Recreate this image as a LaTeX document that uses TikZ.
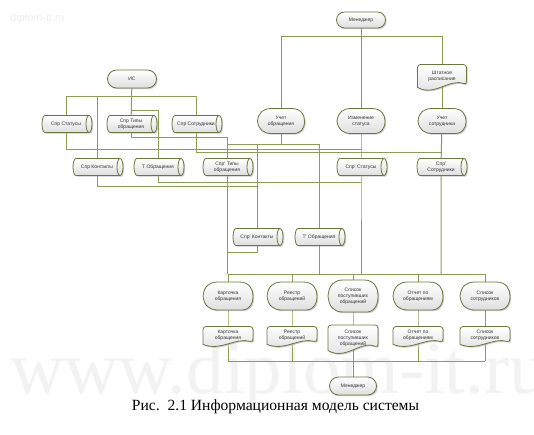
\documentclass[tikz,border=0pt]{standalone}
\usepackage{fontspec}
\setmainfont{Liberation Serif}
\newfontfamily\ssf{Liberation Sans}
\usetikzlibrary{shadows}
\pgfdeclarelayer{wm}\pgfdeclarelayer{lines}\pgfdeclarelayer{shp}
\pgfsetlayers{wm,lines,shp,main}
\definecolor{conn}{RGB}{140,158,84}
\definecolor{edgec}{RGB}{105,120,62}
\tikzset{
 lbl/.style={inner sep=0pt, align=center, font=\ssf\fontsize{5}{6}\selectfont, text=black!80},
 shp/.style={draw=edgec, line width=0.8pt, top color=white, bottom color=black!13,
   drop shadow={shadow xshift=1.2pt, shadow yshift=-1.2pt, fill=black!40, opacity=0.5}},
 wire/.style={draw=conn, line width=1pt},
}
% name, x, y, half width, half height, text
\newcommand\Term[6]{\node[lbl,minimum width={2*#4},minimum height={2*#5}] (#1) at (#2,-#3) {#6};
 \begin{pgfonlayer}{shp}\draw[shp,rounded corners=#5pt] (#2-#4,-#3-#5) rectangle (#2+#4,-#3+#5);\end{pgfonlayer}}
\newcommand\Cyl[6]{\node[lbl,minimum width={2*#4},minimum height={2*#5}] (#1) at (#2-1,-#3) {#6};
 \begin{pgfonlayer}{shp}\begin{scope}[shift={(#2,-#3)}]
 \draw[shp] (-#4+3,#5) -- (#4-3,#5) arc[start angle=90,end angle=-90,x radius=3,y radius=#5] -- (-#4+3,-#5) arc[start angle=270,end angle=90,x radius=3,y radius=#5] -- cycle;
 \draw[draw=edgec,line width=0.8pt] (#4-3,#5) arc[start angle=90,end angle=270,x radius=3,y radius=#5];
 \end{scope}\end{pgfonlayer}}
\newcommand\Disp[6]{\node[lbl,minimum width={2*#4},minimum height={2*#5}] (#1) at (#2,-#3) {#6};
 \begin{pgfonlayer}{shp}\begin{scope}[shift={(#2,-#3)}]
 \draw[shp] (-#4,0) .. controls (-#4+1,0.7*#5) and (-0.75*#4,#5) .. (-0.4*#4,#5) -- (0.45*#4,#5)
   .. controls (0.85*#4,#5) and (#4,0.5*#5) .. (#4,0) .. controls (#4,-0.6*#5) and (0.85*#4,-1.05*#5) .. (0.45*#4,-#5)
   -- (-0.4*#4,-#5) .. controls (-0.75*#4,-#5) and (-#4+1,-0.7*#5) .. (-#4,0) -- cycle;
 \end{scope}\end{pgfonlayer}}
\newcommand\Doc[6]{\node[lbl,minimum width={2*#4},minimum height={2*#5}] (#1) at (#2,-#3+1.5) {#6};
 \begin{pgfonlayer}{shp}\begin{scope}[shift={(#2,-#3)}]
 \draw[shp,rounded corners=3pt] (-#4,-0.7*#5) -- (-#4,#5) -- (#4,#5) -- (#4,-0.5*#5) [sharp corners]
   .. controls (0.3*#4,0.0*#5) and (-0.3*#4,-1.4*#5) .. (-#4,-0.7*#5) -- cycle;
 \end{scope}\end{pgfonlayer}}
\begin{document}
\begin{tikzpicture}[x=1pt,y=1pt]
\useasboundingbox (0,0) rectangle (534,-435);
\begin{pgfonlayer}{wm}
\fill[white] (0,0) rectangle (534,-435);
\node[font=\ssf\fontsize{11}{11}\selectfont, text=black!7, anchor=west, inner sep=0pt] (wm1) at (10,-19) {diplom-it.ru};
\node[font=\fontsize{75}{75}\selectfont, text=black!5, anchor=base west, inner sep=0pt] (wm2) at (10,-393) {www.diplom-it.ru};
\end{pgfonlayer}
% top part
\Term{mgr}{361}{20}{24.5}{8}{Менеджер}
\Term{is}{132}{79}{24.5}{9}{ИС}
\Cyl{sst}{67}{124}{25}{8.5}{Спр Статусы}
\Cyl{stp}{132}{124}{25}{8.5}{Спр Типы\\обращения}
\Cyl{ssotr}{197}{124}{25}{8.5}{Спр Сотрудники}
\Disp{uobr}{281}{121}{23.5}{12.5}{Учет\\обращения}
\Disp{izm}{361}{121}{24}{12.5}{Изменение\\статуса}
\Disp{usotr}{442}{121}{24}{12.5}{Учет\\сотрудника}
\Doc{shtat}{442}{78}{24.5}{13.5}{Штатное\\расписание}
% row 2
\Cyl{skont}{98}{167}{25}{8.5}{Спр Контакты}
\Cyl{tobr}{159}{167}{25}{8.5}{Т Обращения}
\Cyl{stp2}{228}{167}{25}{8.5}{Спр' Типы\\обращения}
\Cyl{sst2}{362}{167}{25}{8.5}{Спр' Статусы}
\Cyl{ssotr2}{442}{167}{25}{8.5}{Спр'\\Сотрудники}
% row 3
\Cyl{skont2}{258}{237}{25}{8.5}{Спр' Контакты}
\Cyl{tobr2}{320}{237}{25}{8.5}{Т' Обращения}
% row 4
\Disp{kart}{228}{296}{25}{14}{Карточка\\обращения}
\Disp{reestr}{292}{296}{25}{14}{Реестр\\обращений}
\Disp{spisp}{353}{296}{25}{16}{Список\\поступивших\\обращений}
\Disp{otch}{418}{296}{25}{14}{Отчет по\\обращениям}
\Disp{spsotr}{485}{296}{25}{14}{Список\\сотрудников}
% row 5
\Doc{kartd}{228}{337}{25}{10.5}{Карточка\\обращения}
\Doc{reestrd}{292}{337}{25}{10.5}{Реестр\\обращений}
\Doc{spispd}{353}{340}{25}{15}{Список\\поступивших\\обращений}
\Doc{otchd}{418}{337}{25}{10.5}{Отчет по\\обращениям}
\Doc{spsotrd}{485}{337}{25}{10.5}{Список\\сотрудников}
\Term{mgrb}{353}{386}{23.5}{9}{Менеджер}
% caption
\node[font=\fontsize{15.6}{18}\selectfont, anchor=base, inner sep=0pt] (cap) at (275.5,-410) {Рис.\ \ 2.1 Информационная модель системы};
% bus coordinates
\coordinate (bA) at (0,-37);
\coordinate (bB) at (0,-97);
\coordinate (bC) at (0,-111);
\coordinate (bF) at (0,-138);
\coordinate (bI) at (0,-145);
\coordinate (bD) at (0,-150);
\coordinate (bE) at (0,-153);
\coordinate (bH) at (0,-183);
\coordinate (bG) at (0,-187);
\coordinate (bK) at (0,-252);
\coordinate (bJ) at (0,-274);
\coordinate (bL) at (0,-361);
\begin{pgfonlayer}{lines}
\draw[wire] (mgr.center) -- (izm.center);
\draw[wire] (uobr.center) -- (uobr |- bA) -- (usotr |- bA) -- (usotr.center);
\draw[wire] (is.center) -- (stp.center);
\draw[wire] (sst.center) -- (sst |- bB) -- (ssotr |- bB) -- (ssotr.center);
\draw[wire] (skont |- bB) -- (skont.center);
\draw[wire] (stp |- bC) -- (tobr |- bC) -- (tobr.center);
\draw[wire] (sst.center) -- (sst |- bD) -- (sst2 |- bD);
\draw[wire] (ssotr.center) -- (ssotr |- bE) -- (ssotr2 |- bE);
\draw[wire] (stp.center) -- (stp |- bF) -- (stp2 |- bF) -- (stp2.center);
\draw[wire] (skont.center) -- (skont |- bG) -- (skont2 |- bG) -- (skont2.center);
\draw[wire] (tobr.center) -- (tobr |- bH) -- (sst2 |- bH);
\draw[wire] (uobr.center) -- (uobr |- bI);
\draw[wire] (stp2 |- bI) -- (tobr2 |- bI) -- (tobr2.center);
\draw[wire] (skont2 |- bI) -- (skont2 |- bG);
\draw[wire] (izm.center) -- (sst2.center) -- (sst2 |- bJ);
\draw[wire] (usotr.center) -- (ssotr2.center) -- (ssotr2 |- bJ);
\draw[wire] (stp2.center) -- (stp2 |- bJ);
\draw[wire] (skont2.center) -- (skont2 |- bK) -- (stp2 |- bK);
\draw[wire] (tobr2.center) -- (tobr2 |- bJ);
\draw[wire] (kart |- bJ) -- (spsotr |- bJ);
\draw[wire] (kart |- bJ) -- (kart.center) -- (kartd.center) -- (kartd |- bL);
\draw[wire] (reestr |- bJ) -- (reestr.center) -- (reestrd.center) -- (reestrd |- bL);
\draw[wire] (spisp |- bJ) -- (spisp.center) -- (spispd.center) -- (spispd |- bL);
\draw[wire] (otch |- bJ) -- (otch.center) -- (otchd.center) -- (otchd |- bL);
\draw[wire] (spsotr |- bJ) -- (spsotr.center) -- (spsotrd.center) -- (spsotrd |- bL);
\draw[wire] (kartd |- bL) -- (spsotrd |- bL);
\draw[wire] (spispd |- bL) -- (mgrb.center);
\end{pgfonlayer}
\end{tikzpicture}
\end{document}
